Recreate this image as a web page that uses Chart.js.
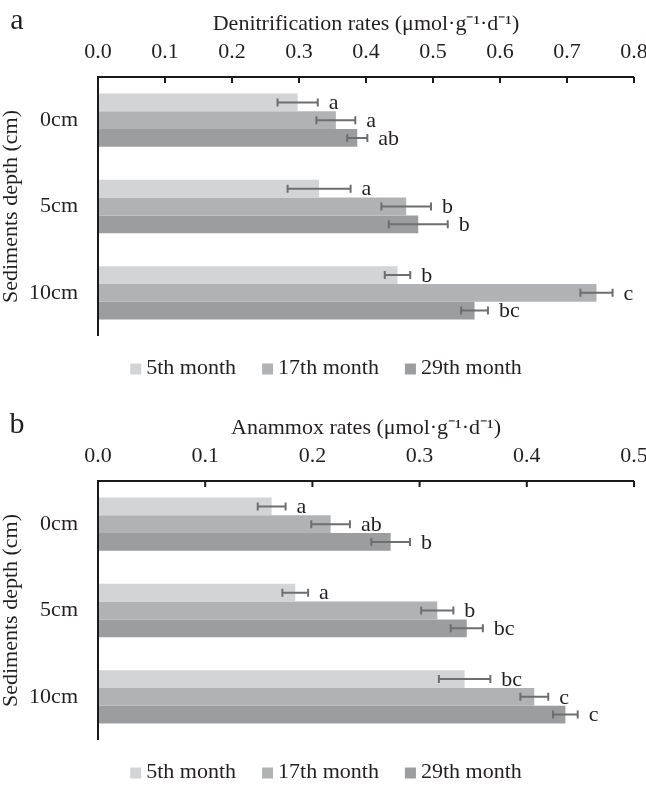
<!DOCTYPE html>
<html>
<head>
<meta charset="utf-8">
<script src="https://cdn.jsdelivr.net/npm/chart.js@4.4.1/dist/chart.umd.min.js"></script>
<style>
  html, body { margin: 0; padding: 0; background: #fff; overflow: hidden; }
  #wrap { width: 646px; height: 787px; position: relative; }
  canvas { display: block; }
</style>
</head>
<body>
<div id="wrap">
  <canvas id="chartA" width="646" height="404"></canvas>
  <canvas id="chartB" width="646" height="383"></canvas>
</div>
<script>
// ---------- data ----------
const categories = ['0cm', '5cm', '10cm'];
const seriesLabels = ['5th month', '17th month', '29th month'];
const seriesColors = ['#d3d4d6', '#b1b2b4', '#9c9d9f'];

// Panel a: denitrification rates
const denit5th = [0.298, 0.330, 0.447];
const denit17th = [0.355, 0.460, 0.744];
const denit29th = [0.387, 0.478, 0.562];
const denitErr5th = [0.030, 0.047, 0.019];
const denitErr17th = [0.029, 0.037, 0.024];
const denitErr29th = [0.015, 0.044, 0.020];
const denitLetters5th = ['a', 'a', 'b'];
const denitLetters17th = ['a', 'b', 'c'];
const denitLetters29th = ['ab', 'b', 'bc'];
const denitTicks = [0.0, 0.1, 0.2, 0.3, 0.4, 0.5, 0.6, 0.7, 0.8];

// Panel b: anammox rates
const anam5th = [0.162, 0.184, 0.342];
const anam17th = [0.217, 0.3165, 0.407];
const anam29th = [0.273, 0.344, 0.436];
const anamErr5th = [0.013, 0.012, 0.024];
const anamErr17th = [0.018, 0.015, 0.013];
const anamErr29th = [0.018, 0.015, 0.0115];
const anamLetters5th = ['a', 'a', 'bc'];
const anamLetters17th = ['ab', 'b', 'c'];
const anamLetters29th = ['b', 'bc', 'c'];
const anamTicks = [0.0, 0.1, 0.2, 0.3, 0.4, 0.5];

const FONT = "'Liberation Serif', 'Times New Roman', serif";
const TEXT = '#231f20';
Chart.defaults.font.family = FONT;
Chart.defaults.color = TEXT;

// ---------- plugins ----------
const decorPlugin = {
  id: 'decor',
  afterDatasetsDraw(chart, args, opts) {
    const ctx = chart.ctx;
    const xs = chart.scales.x;
    const area = chart.chartArea;
    ctx.save();
    // error bars + letters
    chart.data.datasets.forEach((ds, i) => {
      const meta = chart.getDatasetMeta(i);
      meta.data.forEach((el, j) => {
        const v = ds.data[j];
        const e = ds.errors[j];
        const x1 = xs.getPixelForValue(v - e);
        const x2 = xs.getPixelForValue(v + e);
        const y = el.y;
        ctx.strokeStyle = '#6d6e70';
        ctx.lineWidth = 2;
        ctx.beginPath();
        ctx.moveTo(x1, y); ctx.lineTo(x2, y);
        ctx.moveTo(x1, y - 4); ctx.lineTo(x1, y + 4);
        ctx.moveTo(x2, y - 4); ctx.lineTo(x2, y + 4);
        ctx.stroke();
        ctx.fillStyle = TEXT;
        ctx.font = '22px ' + FONT;
        ctx.textAlign = 'left';
        ctx.textBaseline = 'middle';
        ctx.fillText(ds.letters[j], x2 + 11, y + 1);
      });
    });
    // axes lines
    ctx.strokeStyle = '#1a1a1a';
    ctx.lineWidth = 2;
    ctx.beginPath();
    ctx.moveTo(area.left, area.bottom);
    ctx.lineTo(area.left, area.top);
    ctx.lineTo(area.right, area.top);
    ctx.stroke();
    // tick marks pointing inward
    ctx.beginPath();
    xs.ticks.forEach(t => {
      const px = xs.getPixelForValue(t.value);
      ctx.moveTo(px, area.top);
      ctx.lineTo(px, area.top + 6);
    });
    ctx.stroke();
    // panel letter
    ctx.fillStyle = TEXT;
    ctx.font = '30px ' + FONT;
    ctx.textAlign = 'center';
    ctx.textBaseline = 'alphabetic';
    ctx.fillText(opts.panel, 17, 29);
    // legend
    ctx.font = '22px ' + FONT;
    const box = 11, gap = 5, itemGap = 26;
    const widths = chart.data.datasets.map(d => ctx.measureText(d.label).width);
    let total = widths.reduce((a, b) => a + b, 0) + chart.data.datasets.length * (box + gap) + itemGap * (chart.data.datasets.length - 1);
    let x = opts.legendCenter - total / 2;
    const ly = opts.legendY;
    chart.data.datasets.forEach((d, i) => {
      ctx.fillStyle = d.backgroundColor;
      ctx.fillRect(x, ly - box / 2 + 1, box, box);
      x += box + gap;
      ctx.fillStyle = TEXT;
      ctx.textAlign = 'left';
      ctx.textBaseline = 'middle';
      ctx.fillText(d.label, x, ly);
      x += widths[i] + itemGap;
    });
    ctx.restore();
  }
};

function makeChart(id, panel, title, vals, errs, letters, ticks, height) {
  const datasets = seriesLabels.map((lab, i) => ({
    label: lab,
    data: vals[i],
    errors: errs[i],
    letters: letters[i],
    backgroundColor: seriesColors[i],
    borderWidth: 0,
    categoryPercentage: 0.618,
    barPercentage: 1.0
  }));
  return new Chart(document.getElementById(id), {
    type: 'bar',
    data: { labels: categories, datasets },
    plugins: [decorPlugin],
    options: {
      indexAxis: 'y',
      responsive: false,
      animation: false,
      layout: { padding: { left: 0, top: 0, right: 12, bottom: height - 336 } },
      plugins: {
        legend: { display: false },
        tooltip: { enabled: false },
        decor: { panel: panel, legendCenter: 326, legendY: 368 }
      },
      scales: {
        x: {
          position: 'top',
          min: ticks[0],
          max: ticks[ticks.length - 1],
          afterBuildTicks(scale) { scale.ticks = ticks.map(v => ({ value: v })); },
          afterFit(scale) { scale.height = 77; scale.paddingLeft = 0; scale.paddingRight = 0; },
          grid: { display: false, drawTicks: false },
          border: { display: false },
          ticks: {
            padding: 12,
            color: TEXT,
            font: { size: 22, family: FONT },
            callback: v => Number(v).toFixed(1),
            autoSkip: false,
            maxRotation: 0
          },
          title: {
            display: true,
            text: title,
            color: TEXT,
            font: { size: 22, family: FONT },
            padding: { top: 11, bottom: 0 }
          }
        },
        y: {
          afterFit(scale) { scale.width = 98; },
          grid: { display: false, drawTicks: false },
          border: { display: false },
          ticks: { padding: 20, color: TEXT, font: { size: 22, family: FONT } },
          title: {
            display: true,
            text: 'Sediments depth (cm)',
            color: TEXT,
            font: { size: 22, family: FONT, lineHeight: 1 },
            padding: 0
          }
        }
      }
    }
  });
}

makeChart('chartA', 'a', 'Denitrification rates (\u03bcmol\u00b7g\u207b\u00b9\u00b7d\u207b\u00b9)',
  [denit5th, denit17th, denit29th],
  [denitErr5th, denitErr17th, denitErr29th],
  [denitLetters5th, denitLetters17th, denitLetters29th],
  denitTicks, 404);

makeChart('chartB', 'b', 'Anammox rates (\u03bcmol\u00b7g\u207b\u00b9\u00b7d\u207b\u00b9)',
  [anam5th, anam17th, anam29th],
  [anamErr5th, anamErr17th, anamErr29th],
  [anamLetters5th, anamLetters17th, anamLetters29th],
  anamTicks, 383);
</script>
</body>
</html>
